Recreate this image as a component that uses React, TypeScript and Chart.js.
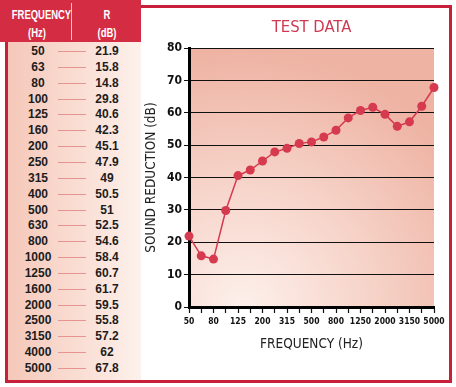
import React, { useEffect, useRef } from "react";
import { Chart, registerables } from "chart.js";

Chart.register(...registerables);

// ---- data ----
const frequencies = ["50", "63", "80", "100", "125", "160", "200", "250", "315", "400", "500", "630", "800", "1000", "1250", "1600", "2000", "2500", "3150", "4000", "5000"];
const rValues = [21.9, 15.8, 14.8, 29.8, 40.6, 42.3, 45.1, 47.9, 49, 50.5, 51, 52.5, 54.6, 58.4, 60.7, 61.7, 59.5, 55.8, 57.2, 62, 67.8];
const yMin = 0;
const yMax = 80;
const yStep = 10;
const labelEvery = 2;
const chartTitle = "TEST DATA";
const xTitle = "FREQUENCY (Hz)";
const yTitle = "SOUND REDUCTION (dB)";
const headFreq = ["FREQUENCY", "(Hz)"];
const headR = ["R", "(dB)"];

const COND = "'DejaVu Sans Condensed', 'Liberation Sans Narrow', sans-serif";
const SANS = "'Liberation Sans', Arial, sans-serif";
const FRAME_RED = "#c81f3b";
const HEAD_RED = "#d42c43";
const LINE_RED = "#d63a4f";

const bgPlugin = {
  id: "plotBg",
  beforeDraw(chart: any) {
    const { ctx, chartArea: a } = chart;
    if (!a) return;
    const cx = a.left + a.width * 0.22;
    const cy = a.bottom;
    const g = ctx.createRadialGradient(cx, cy, 0, cx, cy, a.width * 1.05);
    g.addColorStop(0, "#fdf0eb");
    g.addColorStop(0.45, "#f7d6cc");
    g.addColorStop(1, "#eeb3a3");
    ctx.save();
    ctx.fillStyle = g;
    ctx.fillRect(a.left, a.top, a.width, a.height);
    ctx.restore();
  },
};

function ChartPanel() {
  const ref = useRef<HTMLCanvasElement | null>(null);
  useEffect(() => {
    if (!ref.current) return;
    const chart = new Chart(ref.current, {
      type: "line",
      data: {
        labels: frequencies,
        datasets: [
          {
            data: rValues,
            borderColor: LINE_RED,
            backgroundColor: LINE_RED,
            borderWidth: 1.5,
            pointRadius: 4.5,
            pointBackgroundColor: LINE_RED,
            pointBorderColor: LINE_RED,
            pointBorderWidth: 0,
            tension: 0,
            clip: false as any,
          },
        ],
      },
      options: {
        responsive: false,
        animation: false,
        layout: { padding: { left: 141, right: 22, top: 0, bottom: 0 } },
        plugins: {
          legend: { display: false },
          tooltip: { enabled: false },
          title: {
            display: true,
            text: chartTitle,
            fullSize: false,
            color: "#cf3a52",
            font: { family: COND, size: 16.5, weight: "normal" },
            padding: { top: 17.6, bottom: 10.6 },
          },
        },
        scales: {
          x: {
            type: "category",
            offset: false,
            grid: {
              drawOnChartArea: false,
              drawTicks: true,
              tickLength: 6,
              tickWidth: 1.2,
              tickColor: "#111",
              offset: false,
            },
            border: { display: true, color: "#000", width: 3 },
            ticks: {
              autoSkip: false,
              maxRotation: 0,
              minRotation: 0,
              padding: 4,
              color: "#111",
              font: { family: COND, size: 8.5, weight: "bold" },
              callback: (_v: any, i: number) => (i % labelEvery === 0 ? frequencies[i] : ""),
            },
            title: {
              display: true,
              text: xTitle,
              color: "#222",
              font: { family: COND, size: 13.5, weight: "normal" },
              padding: { top: 0, bottom: 34.8 },
            },
            afterFit: (s: any) => {
              s.height = 80;
            },
          },
          y: {
            min: yMin,
            max: yMax,
            grid: {
              color: "#111",
              lineWidth: 1,
              drawTicks: true,
              tickLength: 5,
              tickColor: "#111",
            },
            border: { display: true, color: "#000", width: 3 },
            ticks: {
              stepSize: yStep,
              padding: 2,
              color: "#111",
              font: { family: COND, size: 12, weight: "bold" },
            },
            title: {
              display: true,
              text: yTitle,
              color: "#222",
              font: { family: COND, size: 13.5, weight: "normal" },
              padding: { top: 2.8, bottom: 0 },
            },
            afterFit: (s: any) => {
              s.width = 48;
            },
          },
        },
      },
      plugins: [bgPlugin],
    } as any);
    return () => chart.destroy();
  }, []);
  return (
    <canvas
      ref={ref}
      width={456}
      height={387}
      style={{ position: "absolute", left: 0, top: 0, width: 456, height: 387 }}
    />
  );
}

const ROW_Y0 = 51;
const ROW_STEP = 15.85;

const headStyle = (left: number, width: number, i: number): React.CSSProperties => ({
  position: "absolute",
  left,
  width,
  top: 6 + i * 17.5,
  height: 18,
  lineHeight: "18px",
  textAlign: "center",
  color: "#fff",
  fontFamily: SANS,
  fontWeight: "bold",
  fontSize: 13.5,
  whiteSpace: "nowrap",
  transform: "scaleX(0.7)",
  transformOrigin: "50% 50%",
});

function Table() {
  return (
    <>
      {/* header */}
      <div style={{ position: "absolute", left: 0, top: 0, width: 141, height: 42, background: HEAD_RED }} />
      <div style={{ position: "absolute", left: 71, top: 3, width: 1, height: 37, background: "#f3c9cc" }} />
      {headFreq.map((t, i) => (
        <div key={"hf" + i} style={headStyle(1, 72, i)}>
          {t}
        </div>
      ))}
      {headR.map((t, i) => (
        <div key={"hr" + i} style={headStyle(72, 70, i)}>
          {t}
        </div>
      ))}
      {/* body */}
      <div
        style={{
          position: "absolute", left: 8, top: 42, width: 133, height: 338,
          background: "linear-gradient(to right, #f5c8b9, #fbe4dc 70%, #fdf1ec)",
        }}
      />
      {frequencies.map((f, i) => {
        const cy = ROW_Y0 + i * ROW_STEP;
        return (
          <React.Fragment key={f}>
            <div
              style={{
                position: "absolute", left: 8, width: 60, top: cy - 8, height: 16, lineHeight: "16px",
                textAlign: "center", color: "#1c1c1c", fontFamily: SANS, fontWeight: "bold", fontSize: 12,
              }}
            >
              {f}
            </div>
            <div style={{ position: "absolute", left: 58, width: 28, top: Math.round(cy), height: 1, background: "#e5948f" }} />
            <div
              style={{
                position: "absolute", left: 82, width: 50, top: cy - 8, height: 16, lineHeight: "16px",
                textAlign: "center", color: "#1c1c1c", fontFamily: SANS, fontWeight: "bold", fontSize: 12,
              }}
            >
              {String(rValues[i])}
            </div>
          </React.Fragment>
        );
      })}
    </>
  );
}

export default function App() {
  useEffect(() => {
    document.body.style.margin = "0";
  }, []);
  return (
    <div style={{ position: "absolute", left: 0, top: 0, width: 456, height: 387, background: "#fff", overflow: "hidden" }}>
      <Table />
      <ChartPanel />
      {/* frame */}
      <div style={{ position: "absolute", left: 141, top: 5, width: 311, height: 2.5, background: FRAME_RED }} />
      <div style={{ position: "absolute", left: 449, top: 5, width: 3, height: 378, background: FRAME_RED }} />
      <div style={{ position: "absolute", left: 5, top: 380, width: 447, height: 3, background: FRAME_RED }} />
      <div style={{ position: "absolute", left: 5, top: 42, width: 3, height: 341, background: FRAME_RED }} />
    </div>
  );
}
